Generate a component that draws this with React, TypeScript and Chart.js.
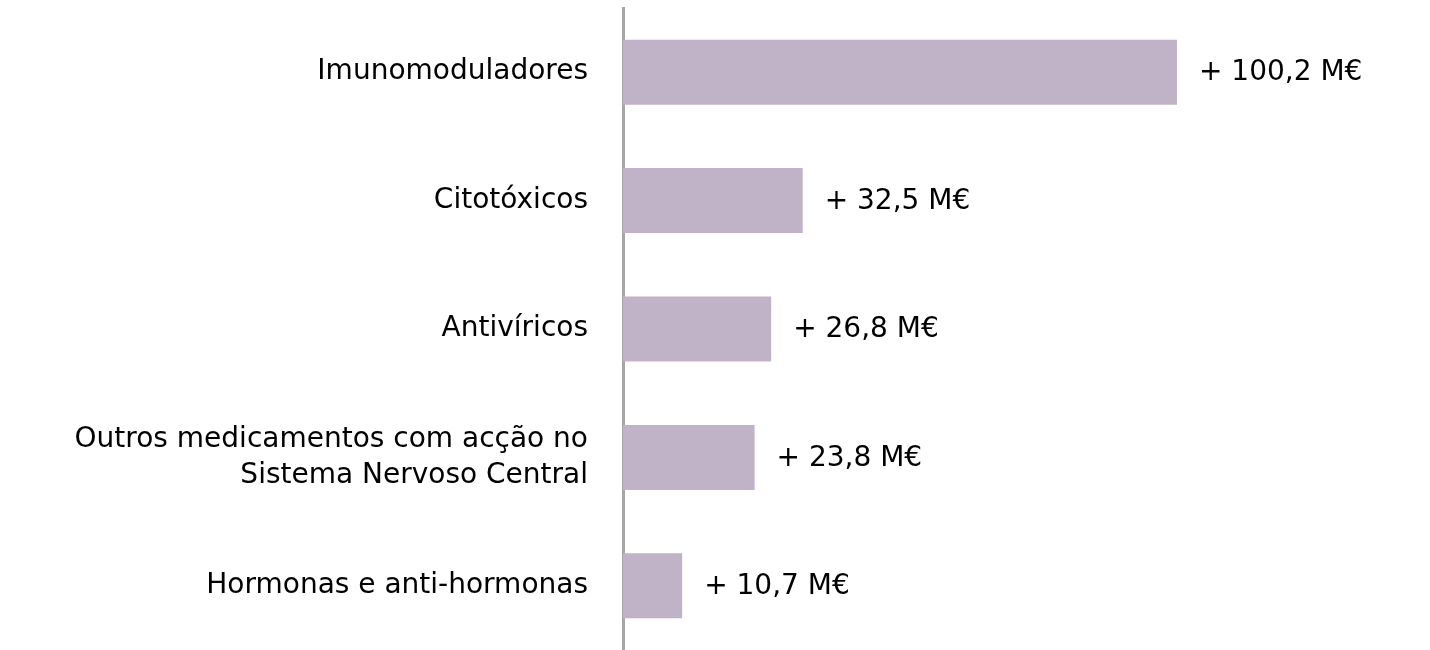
import React, { useEffect, useRef } from "react";
import { Chart, registerables } from "chart.js";

Chart.register(...registerables);

const categories: (string | string[])[] = [
  "Imunomoduladores",
  "Citotóxicos",
  "Antivíricos",
  ["Outros medicamentos com acção no", "Sistema Nervoso Central"],
  "Hormonas e anti-hormonas",
];
const values: number[] = [100.2, 32.5, 26.8, 23.8, 10.7];
const valueLabels: string[] = ["+ 100,2 M€", "+ 32,5 M€", "+ 26,8 M€", "+ 23,8 M€", "+ 10,7 M€"];

const FONT = "'DejaVu Sans', sans-serif";
const FONT_SIZE = 28;

const valueLabelPlugin = {
  id: "valueLabels",
  afterDatasetsDraw(chart: any) {
    const ctx = chart.ctx;
    const meta = chart.getDatasetMeta(0);
    ctx.save();
    ctx.font = `${FONT_SIZE}px ${FONT}`;
    ctx.fillStyle = "#000000";
    ctx.textAlign = "left";
    ctx.textBaseline = "middle";
    meta.data.forEach((bar: any, i: number) => {
      ctx.fillText(valueLabels[i], bar.x + 22, bar.y + 1);
    });
    ctx.restore();
  },
};

export default function App() {
  const ref = useRef<HTMLCanvasElement | null>(null);
  useEffect(() => {
    if (!ref.current) return;
    const chart = new Chart(ref.current, {
      type: "bar",
      data: {
        labels: categories,
        datasets: [
          {
            data: values,
            backgroundColor: "rgb(192,178,199)",
            borderWidth: 0,
            barPercentage: 0.506,
            categoryPercentage: 1,
          },
        ],
      },
      options: {
        indexAxis: "y",
        animation: false,
        responsive: false,
        maintainAspectRatio: false,
        layout: { padding: { top: 8, bottom: 0, left: 0, right: 33 } },
        plugins: { legend: { display: false }, tooltip: { enabled: false } },
        scales: {
          x: { display: false, min: 0, max: 140 },
          y: {
            z: 1,
            afterFit(scale: any) {
              scale.width = 623;
              scale.paddingTop = 0;
              scale.paddingBottom = 0;
            },
            grid: { display: false, drawTicks: false },
            border: { display: true, color: "#A6A6A6", width: 3 },
            ticks: {
              padding: 35,
              color: "#000000",
              font: { family: FONT, size: FONT_SIZE, lineHeight: 1.29 },
            },
          },
        },
      },
      plugins: [valueLabelPlugin],
    });
    return () => chart.destroy();
  }, []);
  return (
    <div style={{ position: "absolute", left: 0, top: 0, width: 1430, height: 650, background: "#fff" }}>
      <canvas ref={ref} width={1430} height={650} style={{ width: 1430, height: 650 }} />
    </div>
  );
}
